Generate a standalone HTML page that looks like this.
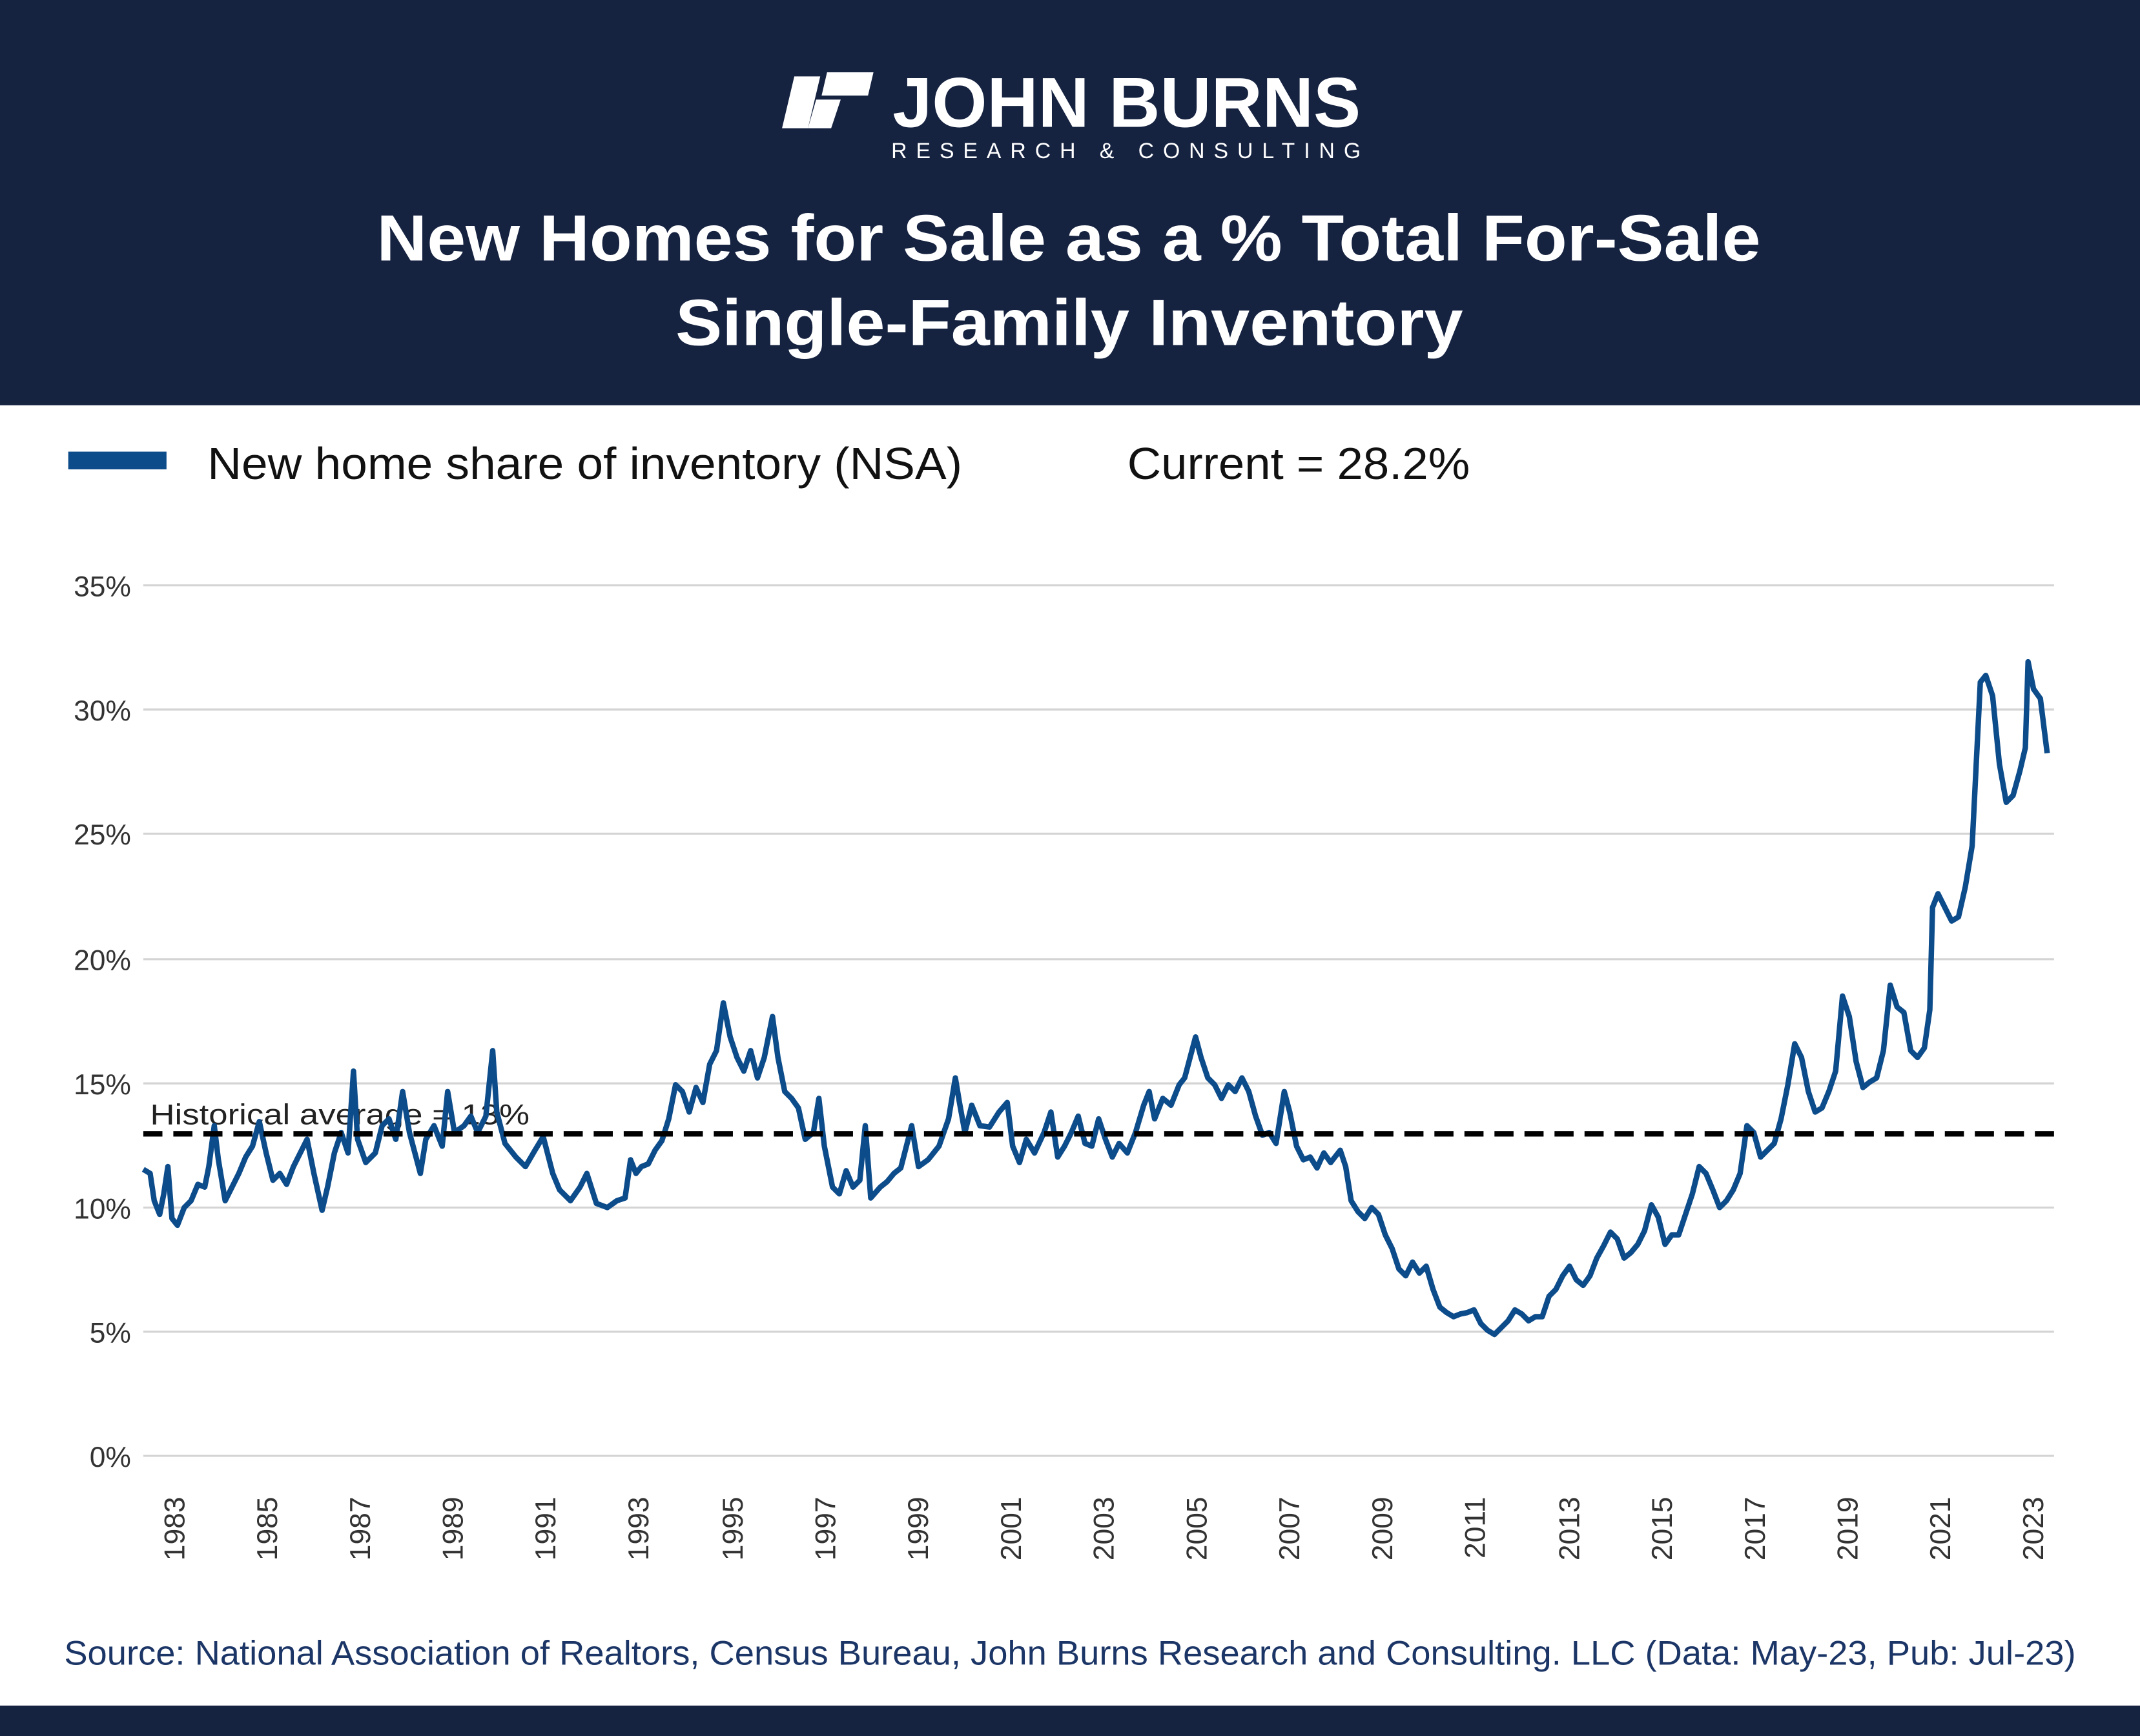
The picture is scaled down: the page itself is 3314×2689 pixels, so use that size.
<!DOCTYPE html>
<html><head><meta charset="utf-8"><style>html,body{margin:0;padding:0;background:#fff}svg{display:block}</style></head>
<body>
<svg width="3314" height="2689" viewBox="0 0 1568 1272.3" preserveAspectRatio="none" xmlns="http://www.w3.org/2000/svg">
<rect x="0" y="0" width="1568" height="297" fill="#152240"/>
<rect x="0" y="1250" width="1568" height="23" fill="#152240"/>
<!-- logo -->
<g fill="#fff">
<path d="M582,56 L601,56 L592,94 L573,94 Z"/>
<path d="M606,53 L640,53 L636,70 L602,70 Z"/>
<path d="M598,73 L616,73 L609,94 L592,94 Z"/>
</g>
<text x="654" y="93" font-family="Liberation Sans, sans-serif" font-weight="bold" font-size="52" fill="#fff" textLength="343" lengthAdjust="spacingAndGlyphs">JOHN BURNS</text>
<text x="653" y="116" font-family="Liberation Sans, sans-serif" font-size="16" fill="#fff" textLength="344" lengthAdjust="spacing">RESEARCH &amp; CONSULTING</text>
<text x="276" y="191" font-family="Liberation Sans, sans-serif" font-weight="bold" font-size="48" fill="#fff" textLength="1014" lengthAdjust="spacingAndGlyphs">New Homes for Sale as a % Total For-Sale</text>
<text x="495" y="253" font-family="Liberation Sans, sans-serif" font-weight="bold" font-size="48" fill="#fff" textLength="577" lengthAdjust="spacingAndGlyphs">Single-Family Inventory</text>
<!-- legend -->
<rect x="50" y="331" width="72" height="13" fill="#0d4c8b"/>
<text x="152" y="351" font-family="Liberation Sans, sans-serif" font-size="33" fill="#111" textLength="553" lengthAdjust="spacingAndGlyphs">New home share of inventory (NSA)</text>
<text x="826" y="351" font-family="Liberation Sans, sans-serif" font-size="33" fill="#111" textLength="251" lengthAdjust="spacingAndGlyphs">Current = 28.2%</text>
<!-- grid -->
<g stroke="#d4d4d4" stroke-width="1.5">
<line x1="105" y1="429" x2="1505" y2="429"/>
<line x1="105" y1="520" x2="1505" y2="520"/>
<line x1="105" y1="611" x2="1505" y2="611"/>
<line x1="105" y1="703" x2="1505" y2="703"/>
<line x1="105" y1="794" x2="1505" y2="794"/>
<line x1="105" y1="885" x2="1505" y2="885"/>
<line x1="105" y1="976" x2="1505" y2="976"/>
<line x1="105" y1="1067" x2="1505" y2="1067"/>
</g>
<g font-family="Liberation Sans, sans-serif" font-size="21" fill="#333" text-anchor="end">
<text x="96" y="437">35%</text><text x="96" y="528">30%</text><text x="96" y="619">25%</text><text x="96" y="711">20%</text>
<text x="96" y="802">15%</text><text x="96" y="893">10%</text><text x="96" y="984">5%</text><text x="96" y="1075">0%</text>
</g>
<g font-family="Liberation Sans, sans-serif" font-size="21" fill="#333" text-anchor="end">
<text transform="translate(135,1097) rotate(-90)">1983</text>
<text transform="translate(203,1097) rotate(-90)">1985</text>
<text transform="translate(271,1097) rotate(-90)">1987</text>
<text transform="translate(339,1097) rotate(-90)">1989</text>
<text transform="translate(407,1097) rotate(-90)">1991</text>
<text transform="translate(475,1097) rotate(-90)">1993</text>
<text transform="translate(544,1097) rotate(-90)">1995</text>
<text transform="translate(612,1097) rotate(-90)">1997</text>
<text transform="translate(680,1097) rotate(-90)">1999</text>
<text transform="translate(748,1097) rotate(-90)">2001</text>
<text transform="translate(816,1097) rotate(-90)">2003</text>
<text transform="translate(884,1097) rotate(-90)">2005</text>
<text transform="translate(952,1097) rotate(-90)">2007</text>
<text transform="translate(1020,1097) rotate(-90)">2009</text>
<text transform="translate(1088,1097) rotate(-90)">2011</text>
<text transform="translate(1157,1097) rotate(-90)">2013</text>
<text transform="translate(1225,1097) rotate(-90)">2015</text>
<text transform="translate(1293,1097) rotate(-90)">2017</text>
<text transform="translate(1361,1097) rotate(-90)">2019</text>
<text transform="translate(1429,1097) rotate(-90)">2021</text>
<text transform="translate(1497,1097) rotate(-90)">2023</text>
</g>
<text x="110" y="824" font-family="Liberation Sans, sans-serif" font-size="21" fill="#222" textLength="278" lengthAdjust="spacingAndGlyphs">Historical average = 13%</text>
<polyline fill="none" stroke="#0d4c8b" stroke-width="4" stroke-linejoin="round" points="105,857 110,860 113,880 117,890 120,875 123,855 126,893 130,898 135,885 140,880 145,868 150,870 153,855 157,825 160,850 165,880 170,870 175,860 180,848 185,840 190,822 195,845 200,865 205,860 210,868 215,855 220,845 225,835 230,860 236,887 240,870 245,845 250,830 255,845 259,785 262,835 268,852 275,845 280,825 285,820 290,835 295,800 300,830 308,860 312,835 318,825 324,840 328,800 333,830 340,825 345,818 350,830 356,818 361,770 364,815 370,838 378,848 385,855 392,843 398,833 405,860 410,872 418,880 425,870 430,860 437,882 445,885 452,880 458,878 462,850 466,860 470,855 475,853 480,843 485,836 490,820 495,795 500,800 505,815 510,797 515,808 520,780 525,770 530,735 535,760 540,775 545,785 550,770 555,790 560,775 566,745 570,775 575,800 580,805 585,812 590,835 596,830 600,805 604,840 610,870 615,875 620,858 625,870 630,865 634,825 638,878 645,870 650,866 655,860 660,856 668,825 673,855 680,850 688,840 695,820 700,790 703,808 707,830 712,810 718,825 725,826 732,815 738,808 742,840 747,852 752,835 758,845 765,830 770,815 775,848 780,840 785,830 790,818 795,838 800,840 805,820 810,835 815,848 820,838 826,845 832,830 838,810 842,800 846,820 852,805 858,810 864,795 868,790 872,775 876,760 880,775 885,790 890,795 895,805 900,795 905,800 910,790 915,800 920,818 925,832 930,830 935,838 941,800 945,815 950,840 955,850 960,848 965,856 970,845 975,852 982,843 986,855 990,880 995,888 1000,893 1005,885 1010,890 1015,905 1020,915 1025,930 1030,935 1035,925 1040,933 1045,928 1050,945 1055,958 1060,962 1065,965 1070,963 1075,962 1080,960 1085,970 1090,975 1095,978 1100,973 1105,968 1110,960 1115,963 1120,968 1125,965 1130,965 1135,950 1140,945 1145,935 1150,928 1155,938 1160,942 1165,935 1170,922 1175,913 1180,903 1185,908 1190,922 1195,918 1200,912 1205,902 1210,883 1215,892 1220,912 1225,905 1230,905 1235,890 1240,875 1245,855 1250,860 1255,872 1260,885 1265,880 1270,872 1275,860 1280,825 1285,830 1290,848 1295,843 1300,838 1305,820 1310,795 1315,765 1320,775 1325,800 1330,815 1335,812 1340,800 1345,785 1350,730 1355,745 1360,778 1365,797 1370,793 1375,790 1380,770 1385,722 1390,738 1395,742 1400,770 1405,775 1410,768 1414,740 1416,665 1420,655 1425,665 1430,675 1435,672 1440,650 1445,620 1448,560 1451,500 1455,495 1460,510 1465,560 1470,588 1475,583 1480,565 1484,548 1486,485 1490,505 1495,512 1500,552"/>
<line x1="105" y1="831" x2="1505" y2="831" stroke="#000" stroke-width="4" stroke-dasharray="14,8"/>
<text x="47" y="1220" font-family="Liberation Sans, sans-serif" font-size="25" fill="#1b3566" textLength="1474" lengthAdjust="spacingAndGlyphs">Source: National Association of Realtors, Census Bureau, John Burns Research and Consulting. LLC (Data: May-23, Pub: Jul-23)</text>
</svg>
</body></html>
